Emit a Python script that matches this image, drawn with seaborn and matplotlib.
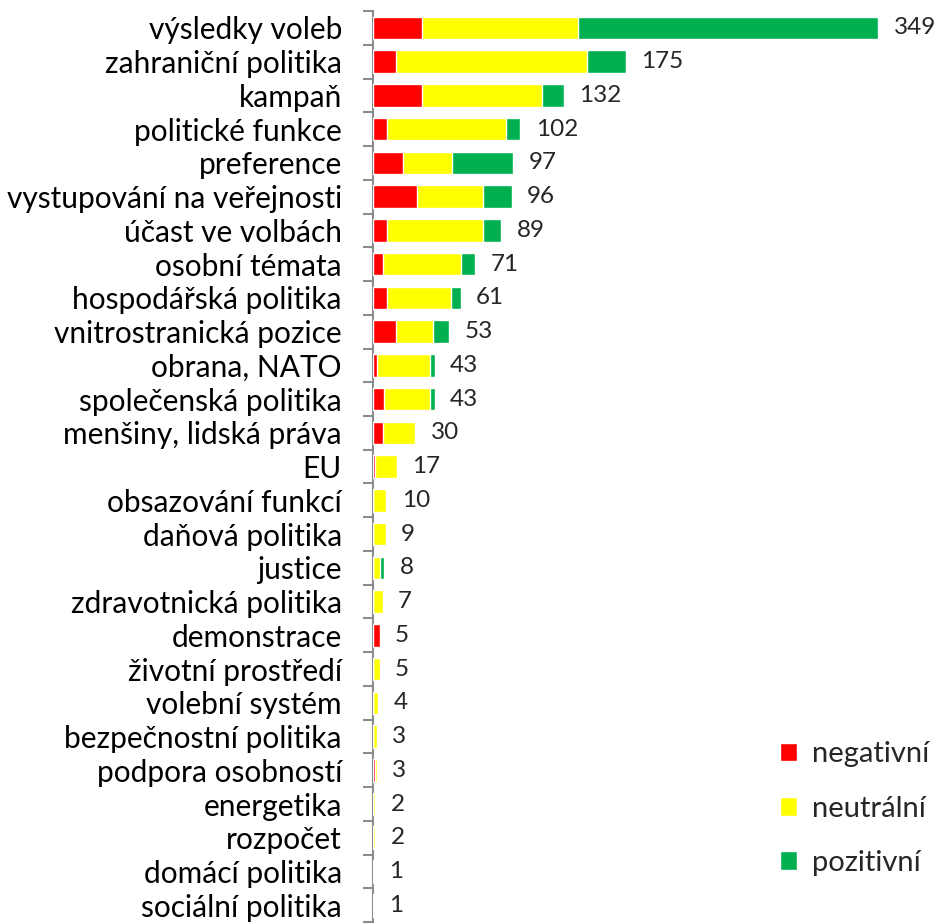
import numpy as np
import pandas as pd
import matplotlib
matplotlib.use('Agg')
import matplotlib.pyplot as plt
import seaborn as sns

# Data
categories = ['výsledky voleb', 'zahraniční politika', 'kampaň', 'politické funkce',
              'preference', 'vystupování na veřejnosti', 'účast ve volbách', 'osobní témata',
              'hospodářská politika', 'vnitrostranická pozice', 'obrana, NATO',
              'společenská politika', 'menšiny, lidská práva', 'EU', 'obsazování funkcí',
              'daňová politika', 'justice', 'zdravotnická politika', 'demonstrace',
              'životní prostředí', 'volební systém', 'bezpečnostní politika',
              'podpora osobností', 'energetika', 'rozpočet', 'domácí politika',
              'sociální politika']
negativni = [34, 16, 34, 10, 21, 31, 10, 7, 10, 16, 3, 8, 7, 2, 0, 0, 0, 0, 5, 0, 0, 0, 2, 0, 0, 0, 0]
neutralni = [108, 132, 83, 82, 34, 45, 66, 54, 44, 26, 37, 32, 22, 15, 9, 9, 5, 7, 0, 5, 4, 3, 1, 2, 2, 1, 1]
pozitivni = [207, 27, 15, 10, 42, 20, 13, 10, 7, 11, 3, 3, 1, 0, 1, 0, 3, 0, 0, 0, 0, 0, 0, 0, 0, 0, 0]

df = pd.DataFrame({'kategorie': categories, 'negativní': negativni,
                   'neutrální': neutralni, 'pozitivní': pozitivni})
df['neg_cum'] = df['negativní']
df['neu_cum'] = df['negativní'] + df['neutrální']
df['total'] = df['neu_cum'] + df['pozitivní']

sns.set_style('white')
plt.rcParams['font.family'] = ['Lato', 'DejaVu Sans']

fig = plt.figure(figsize=(9.36, 9.24), dpi=100)
ax = fig.add_axes([0.398, 0.002, 0.596, 0.986])

# stacked bars by overlaying cumulative sums
sns.barplot(data=df, y='kategorie', x='total', color='#00B050', width=0.67,
            label='pozitivní', orient='h', ax=ax, saturation=1)
sns.barplot(data=df, y='kategorie', x='neu_cum', color='#FFFF00', width=0.67,
            label='neutrální', orient='h', ax=ax, saturation=1)
sns.barplot(data=df, y='kategorie', x='neg_cum', color='#FF0000', width=0.67,
            label='negativní', orient='h', ax=ax, saturation=1)

ax.bar_label(ax.containers[0], labels=[str(v) for v in df['total']],
             padding=11, fontsize=17.5)

ax.set_xlim(0, 385)
ax.set_ylim(len(categories) - 0.5, -0.5)
ax.set_xlabel('')
ax.set_ylabel('')
ax.set_xticks([])

for s in ['top', 'right', 'bottom']:
    ax.spines[s].set_visible(False)
ax.spines['left'].set_color('#8c8c8c')
ax.spines['left'].set_linewidth(1.5)
ax.spines['left'].set_zorder(0.5)

ax.tick_params(axis='y', which='major', left=False, length=0, pad=22, labelsize=21.5, labelcolor='black')
ax.set_yticks(np.arange(len(categories) + 1) - 0.5, minor=True)
ax.tick_params(axis='y', which='minor', left=True, length=7, width=1.5, color='#8c8c8c', direction='out')

handles, labels = ax.get_legend_handles_labels()
leg = ax.legend(handles[::-1], labels[::-1], loc='lower right', bbox_to_anchor=(1.045, 0.022),
                frameon=False, fontsize=21, handlelength=0.6, handleheight=0.6,
                handletextpad=0.5, labelspacing=0.97)

fig.savefig('out.png', dpi=100)
